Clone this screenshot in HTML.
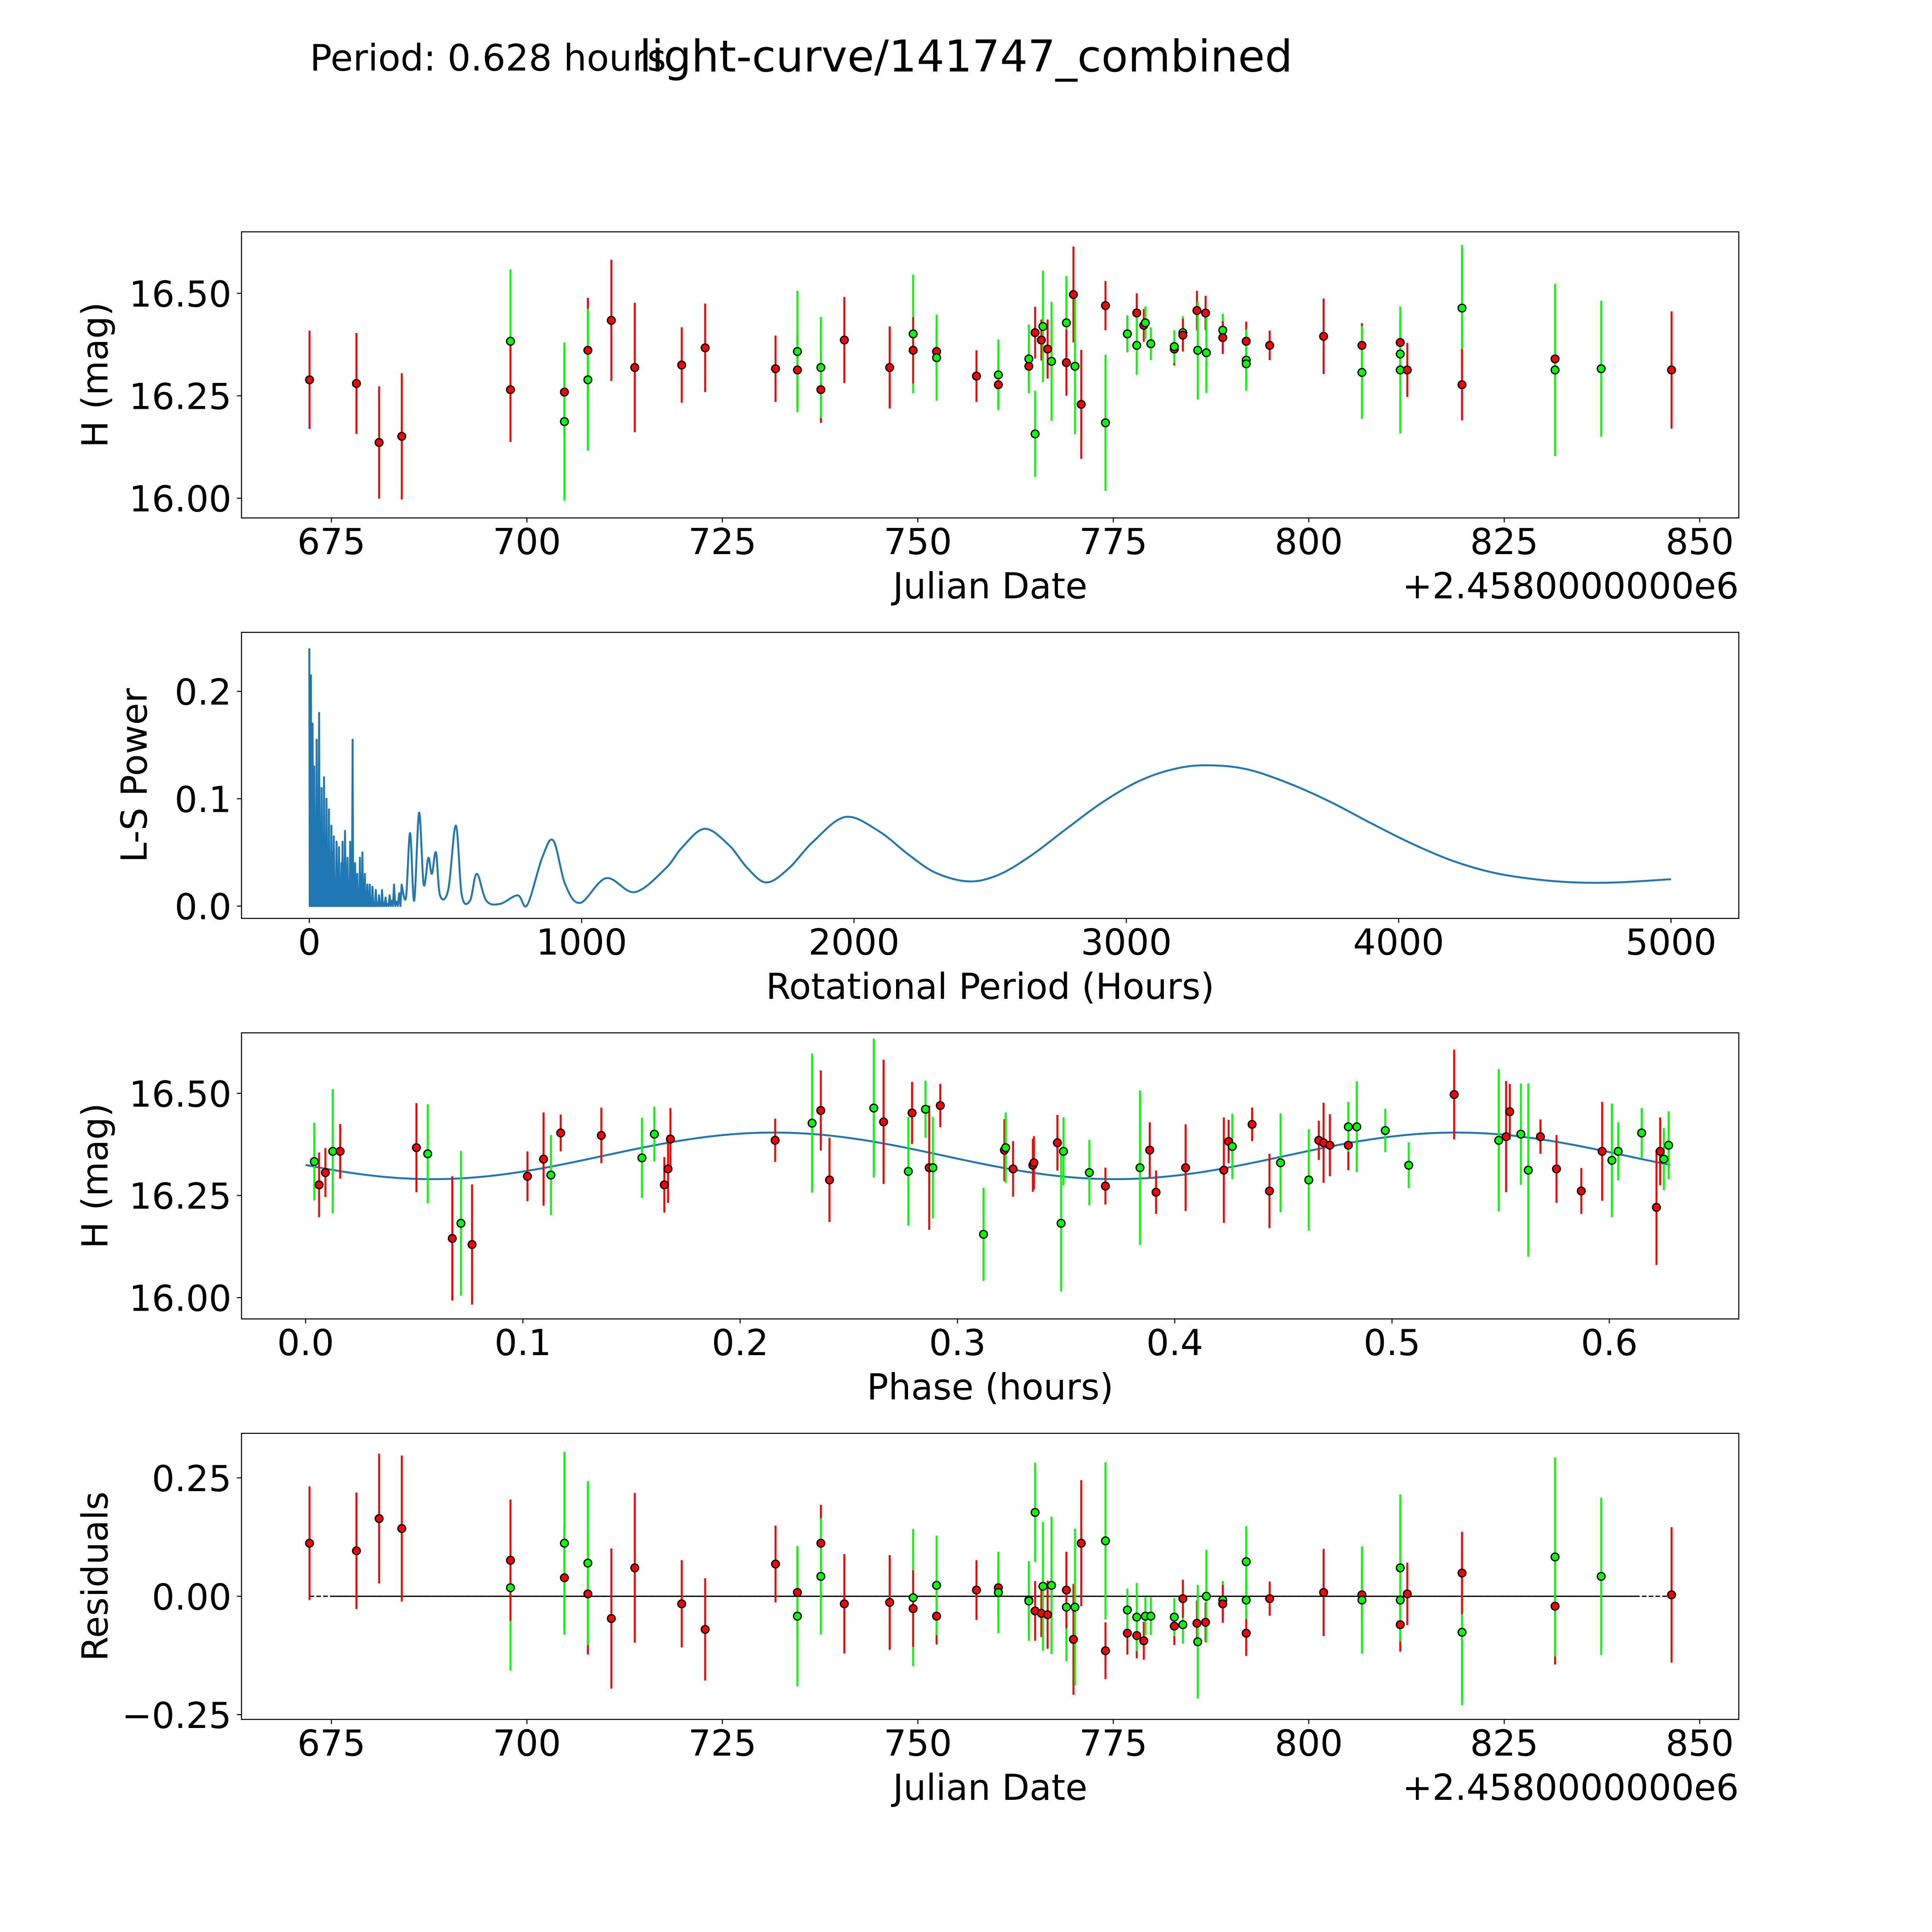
<!DOCTYPE html>
<html><head><meta charset="utf-8"><style>
html,body{margin:0;padding:0;background:#fff;width:100%;height:100%;overflow:hidden}
svg{display:block;width:100vw;height:100vh}
text{font-family:"DejaVu Sans","Liberation Sans",sans-serif;fill:#000}
</style></head><body>
<svg id="fig" xmlns="http://www.w3.org/2000/svg" viewBox="0 0 5400 5400" preserveAspectRatio="xMidYMid meet">
<rect width="5400" height="5400" fill="#fff"/>
<text x="866" y="197" font-size="102">Period: 0.628 hours</text>
<text x="2700" y="200" font-size="122" text-anchor="middle">light-curve/141747_combined</text>
</svg>
<script>
// ---- Data: observations (color, julian date offset, H mag, error, residual)
const obsColor = ['r','r','r','r','g','r','r','g','r','g','r','r','r','r','r','r','g','r','g','r','r','g','r','r','g','r','r','g','r','g','g','r','r','g','r','g','g','r','r','g','r','r','g','r','g','r','g','r','g','g','r','g','g','r','r','g','r','g','g','r','r','g','g','r','r','r','g','r','g','g','r','g','r','r','g','g','r'];
const obsDate = [672.2,678.2,681.1,684.0,697.9,697.9,704.8,704.8,707.8,707.8,710.8,713.8,719.8,722.8,731.8,734.6,734.6,737.6,737.6,740.6,746.4,749.4,749.4,752.4,752.4,757.5,760.3,760.3,764.2,764.2,765.0,765.0,765.8,766.0,766.6,767.1,769.0,769.0,769.9,770.1,770.9,774.0,774.0,776.8,776.8,778.0,778.0,778.9,779.1,779.8,782.8,782.8,783.9,783.9,785.7,785.8,786.8,786.9,789.0,789.0,792.0,792.0,792.0,795.0,801.9,806.8,806.8,811.7,811.7,811.7,812.6,819.6,819.6,831.5,831.5,837.4,846.4];
const obsMag = [16.289,16.280,16.136,16.151,16.383,16.265,16.259,16.187,16.361,16.289,16.434,16.319,16.325,16.367,16.316,16.313,16.358,16.265,16.319,16.386,16.319,16.401,16.361,16.358,16.343,16.298,16.277,16.301,16.322,16.340,16.157,16.404,16.386,16.419,16.364,16.334,16.428,16.331,16.497,16.322,16.229,16.470,16.184,16.401,16.401,16.452,16.373,16.422,16.428,16.377,16.364,16.370,16.404,16.398,16.458,16.361,16.452,16.355,16.410,16.392,16.383,16.337,16.328,16.373,16.395,16.373,16.307,16.380,16.313,16.352,16.313,16.464,16.277,16.340,16.313,16.316,16.313];
const obsErr = [0.120,0.123,0.137,0.154,0.175,0.128,0.110,0.193,0.128,0.173,0.148,0.158,0.092,0.108,0.081,0.093,0.148,0.081,0.123,0.105,0.100,0.145,0.081,0.060,0.105,0.063,0.060,0.086,0.051,0.084,0.105,0.063,0.050,0.136,0.072,0.145,0.114,0.081,0.117,0.166,0.133,0.060,0.166,0.045,0.045,0.048,0.072,0.040,0.040,0.040,0.040,0.040,0.040,0.040,0.048,0.120,0.042,0.098,0.040,0.040,0.048,0.075,0.040,0.036,0.092,0.054,0.113,0.057,0.155,0.040,0.066,0.154,0.087,0.123,0.210,0.166,0.143];
const obsRes = [0.112,0.096,0.164,0.143,0.018,0.076,0.039,0.112,0.005,0.070,-0.047,0.060,-0.016,-0.070,0.068,0.008,-0.042,0.112,0.042,-0.016,-0.013,-0.003,-0.026,-0.042,0.023,0.013,0.018,0.008,-0.008,-0.010,0.177,-0.031,-0.036,0.021,-0.039,0.023,-0.023,0.013,-0.091,-0.023,0.112,-0.115,0.117,-0.078,-0.029,-0.083,-0.044,-0.094,-0.042,-0.042,-0.063,-0.044,-0.060,-0.005,-0.057,-0.096,-0.055,0.000,-0.008,-0.016,-0.078,0.073,-0.008,-0.005,0.008,0.003,-0.008,-0.060,0.060,-0.008,0.005,-0.076,0.049,-0.021,0.083,0.042,0.003];
// ---- Data: phase-folded
const phColor = ['r','g','r','g','r','r','g','r','g','r','r','r','g','r','r','g','g','r','r','r','r','g','r','r','g','r','g','r','g','r','g','r','g','r','g','r','r','r','r','g','g','g','r','g','r','r','r','r','r','g','r','r','g','g','r','r','r','r','g','g','g','g','r','g','r','r','g','g','r','r','r','r','g','g','g','r','r','g','g'];
const phPhase = [0.0062,0.0040,0.0091,0.0125,0.0159,0.0510,0.0562,0.0675,0.0715,0.0766,0.1021,0.1095,0.1129,0.1174,0.1361,0.1548,0.1605,0.1651,0.1668,0.1679,0.2161,0.2331,0.2371,0.2411,0.2615,0.2660,0.2774,0.2791,0.2853,0.2870,0.2887,0.2921,0.3120,0.3216,0.3222,0.3256,0.3347,0.3352,0.3460,0.3477,0.3488,0.3607,0.3681,0.3840,0.3885,0.3914,0.4050,0.4226,0.4248,0.4265,0.4356,0.4436,0.4487,0.4617,0.4663,0.4685,0.4714,0.4799,0.4799,0.4838,0.4969,0.5077,0.5286,0.5491,0.5525,0.5542,0.5593,0.5627,0.5683,0.5757,0.5871,0.5967,0.6012,0.6041,0.6149,0.6217,0.6234,0.6251,0.6273];
const phMag = [16.276,16.333,16.306,16.358,16.358,16.367,16.352,16.145,16.182,16.130,16.297,16.339,16.300,16.403,16.397,16.342,16.400,16.276,16.315,16.388,16.385,16.427,16.458,16.288,16.464,16.430,16.309,16.452,16.461,16.318,16.318,16.470,16.155,16.361,16.367,16.315,16.324,16.330,16.379,16.182,16.358,16.306,16.273,16.318,16.361,16.258,16.318,16.312,16.382,16.370,16.424,16.261,16.330,16.288,16.385,16.379,16.373,16.373,16.418,16.418,16.409,16.324,16.497,16.385,16.394,16.455,16.400,16.312,16.394,16.315,16.261,16.358,16.336,16.358,16.403,16.221,16.358,16.339,16.373];
const phErr = [0.079,0.095,0.060,0.152,0.067,0.109,0.121,0.152,0.177,0.147,0.061,0.114,0.098,0.045,0.068,0.098,0.067,0.068,0.083,0.076,0.053,0.170,0.098,0.103,0.170,0.152,0.133,0.076,0.070,0.152,0.124,0.053,0.114,0.076,0.086,0.068,0.065,0.065,0.068,0.167,0.083,0.080,0.045,0.189,0.068,0.053,0.106,0.129,0.053,0.080,0.041,0.091,0.121,0.124,0.048,0.098,0.076,0.061,0.061,0.111,0.053,0.056,0.110,0.174,0.136,0.068,0.124,0.212,0.042,0.083,0.056,0.121,0.139,0.071,0.061,0.141,0.083,0.076,0.083];
// sinusoid model: mean, amplitude, phase of max
const modelMean = 16.347, modelAmp = 0.057, modelPeriod = 0.314, modelPeakPhase = 0.2155, modelEnd = 0.628;
// ---- Data: periodogram
const spikeHours = [0,3,6,9,12,15,18,22,27,31,36,40,45,49,54,58,63,67,72,76,81,86,90,95,100,104,109,113,118,122,127,131,136,140,145,150,154,159,163,168,172,176,181,186,190,195,199,204,208,213,218,222,227,232,238,244,250,256,262,267,273,280,287,295,303,311,320,330,339];
const spikePower = [0.24,0.03,0.215,0.02,0.17,0.05,0.13,0.01,0.155,0.04,0.18,0.02,0.11,0.06,0.12,0.01,0.10,0.04,0.09,0.005,0.075,0.05,0.065,0.01,0.06,0.02,0.055,0.005,0.04,0.06,0.01,0.07,0.02,0.045,0.005,0.06,0.03,0.155,0.005,0.04,0.01,0.03,0.005,0.045,0.01,0.05,0.005,0.03,0.002,0.02,0.01,0.02,0.005,0.018,0.003,0.015,0.003,0.01,0.002,0.015,0.003,0.008,0.002,0.01,0.005,0.02,0.004,0.012,0.02];
const smoothHours = [339,355,370,385,403,420,437,450,465,480,510,538,560,590,615,650,700,765,800,855,896,940,995,1090,1195,1308,1370,1452,1540,1610,1679,1760,1850,1968,2090,2200,2300,2421,2530,2650,2780,2920,3060,3200,3321,3450,3600,3750,3900,4050,4200,4350,4500,4650,4800,5000];
const smoothPower = [0.02,0.008,0.068,0.005,0.087,0.02,0.045,0.03,0.05,0.01,0.015,0.075,0.01,0.005,0.03,0.005,0.002,0.01,0.001,0.045,0.061,0.02,0.003,0.026,0.013,0.035,0.055,0.072,0.057,0.035,0.022,0.035,0.060,0.083,0.070,0.048,0.031,0.023,0.029,0.047,0.072,0.098,0.118,0.129,0.131,0.127,0.114,0.097,0.077,0.058,0.042,0.031,0.025,0.022,0.022,0.025];
// ---- Tick labels
const xTicksJD = [675,700,725,750,775,800,825,850];
const yTicksMag = [16.00,16.25,16.50];
const xTicksPer = [0,1000,2000,3000,4000,5000];
const yTicksPow = [0.0,0.1,0.2];
const xTicksPh = [0.0,0.1,0.2,0.3,0.4,0.5,0.6];
const yTicksRes = [-0.25,0.00,0.25];

const NS = 'http://www.w3.org/2000/svg';
const fig = document.getElementById('fig');
function el(tag, attrs, parent){const e=document.createElementNS(NS,tag);for(const k in attrs)e.setAttribute(k,attrs[k]);(parent||fig).appendChild(e);return e;}
const L=675,R=4860,H=799.6,GAP=319.8,TOP=648;
const COL={r:'#ff0000',g:'#00ff00'};
function makeAxes(i,xl,yl,name){
  const top=TOP+i*(H+GAP),bot=top+H;
  const g=el('g',{});
  
  
  return {g,top,bot,sx:v=>L+(v-xl[0])/(xl[1]-xl[0])*(R-L),sy:v=>bot-(v-yl[0])/(yl[1]-yl[0])*H};
}
function frame(ax,xt,xfmt,yt,yfmt,xlabel,ylabel,offset,ylabX){
  const b=el('rect',{x:L,y:ax.top,width:R-L,height:H,fill:'none',stroke:'#000','stroke-width':2.9},ax.g);
  
  
  xt.forEach(v=>{const x=ax.sx(v);
    el('line',{x1:x,x2:x,y1:ax.bot,y2:ax.bot+12.7,stroke:'#000','stroke-width':2.9},ax.g);
    const t=el('text',{x:x,y:ax.bot+101,'font-size':100,'text-anchor':'middle'},ax.g);t.textContent=xfmt(v);
    
    });
  yt.forEach(v=>{const y=ax.sy(v);
    el('line',{x1:L-12.7,x2:L,y1:y,y2:y,stroke:'#000','stroke-width':2.9},ax.g);
    const t=el('text',{x:L-28,y:y+37,'font-size':100,'text-anchor':'end'},ax.g);t.textContent=yfmt(v);
    
    });
  const xl=el('text',{x:(L+R)/2,y:ax.bot+225,'font-size':100,'text-anchor':'middle'},ax.g);xl.textContent=xlabel;
  
  
  const cy=(ax.top+ax.bot)/2;
  const yl=el('text',{x:ylabX,y:cy,'font-size':100,'text-anchor':'middle',transform:`rotate(-90 ${ylabX} ${cy})`},ax.g);yl.textContent=ylabel;
  
  
  if(offset){const o=el('text',{x:R,y:ax.bot+225,'font-size':100,'text-anchor':'end'},ax.g);o.textContent=offset;
    
    }
}
function points(ax,xs,ys,es,cs,name){
  xs.forEach((xv,k)=>{const x=ax.sx(xv);
    const ln=el('line',{x1:x,x2:x,y1:ax.sy(ys[k]-es[k]),y2:ax.sy(ys[k]+es[k]),stroke:COL[cs[k]],'stroke-width':5.4},ax.g);
    
    });
  xs.forEach((xv,k)=>{
    const c=el('circle',{cx:ax.sx(xv),cy:ax.sy(ys[k]),r:10.8,fill:COL[cs[k]],stroke:'#000','stroke-width':3.6},ax.g);
    
    });
}
const f2=v=>v.toFixed(2).replace('-','\u2212');
// Panel 1
const a1=makeAxes(0,[663.5,855.0],[15.952,16.65],'light-curve-panel');
frame(a1,xTicksJD,v=>String(v),yTicksMag,f2,'Julian Date','H (mag)','+2.4580000000e6',300);
points(a1,obsDate,obsMag,obsErr,obsColor,'observation');
// Panel 2
const a2=makeAxes(1,[-249,5249],[-0.0115,0.255],'periodogram-panel');
frame(a2,xTicksPer,v=>String(v),yTicksPow,v=>v.toFixed(1),'Rotational Period (Hours)','L-S Power',null,410);
(function(){
  let d='';
  spikeHours.forEach((h,k)=>{d+=(k?'L':'M')+a2.sx(h).toFixed(1)+' '+a2.sy(spikePower[k]).toFixed(1);
    if(k<spikeHours.length-1){d+='L'+a2.sx((h+spikeHours[k+1])/2).toFixed(1)+' '+a2.sy(0).toFixed(1);}});
  const P=smoothHours.map((h,k)=>[a2.sx(h),a2.sy(smoothPower[k])]);
  for(let k=0;k<P.length-1;k++){
    const p0=P[Math.max(0,k-1)],p1=P[k],p2=P[k+1],p3=P[Math.min(P.length-1,k+2)];
    const c1=[p1[0]+(p2[0]-p0[0])/6,p1[1]+(p2[1]-p0[1])/6],c2=[p2[0]-(p3[0]-p1[0])/6,p2[1]-(p3[1]-p1[1])/6];
    d+=`C${c1[0].toFixed(1)} ${c1[1].toFixed(1)} ${c2[0].toFixed(1)} ${c2[1].toFixed(1)} ${p2[0].toFixed(1)} ${p2[1].toFixed(1)}`;
  }
  const p=el('path',{d:d,fill:'none',stroke:'#1f77b4','stroke-width':5.4,'stroke-linejoin':'round'},a2.g);
  
  
})();
// Panel 3
const a3=makeAxes(2,[-0.0295,0.6596],[15.948,16.648],'phase-panel');
frame(a3,xTicksPh,v=>v.toFixed(1),yTicksMag,f2,'Phase (hours)','H (mag)',null,300);
(function(){
  let d='';
  for(let i=0;i<=300;i++){const p=modelEnd*i/300;const m=modelMean+modelAmp*Math.cos(2*Math.PI*(p-modelPeakPhase)/modelPeriod);
    d+=(i?'L':'M')+a3.sx(p).toFixed(1)+' '+a3.sy(m).toFixed(1);}
  const c=el('path',{d:d,fill:'none',stroke:'#1f77b4','stroke-width':5.4},a3.g);
  
  
})();
points(a3,phPhase,phMag,phErr,phColor,'phase');
// Panel 4
const a4=makeAxes(3,[663.5,855.0],[-0.26,0.344],'residuals-panel');
frame(a4,xTicksJD,v=>String(v),yTicksRes,f2,'Julian Date','Residuals','+2.4580000000e6',300);
(function(){
  const x0=a4.sx(obsDate[0]),x1=a4.sx(obsDate[obsDate.length-1]),y=a4.sy(0);
  const z1=el('line',{x1:x0,x2:x1,y1:y,y2:y,stroke:'#000','stroke-width':3.6,'stroke-dasharray':'13 6'},a4.g);
  
  
  const z2=el('line',{x1:a4.sx(675),x2:a4.sx(842),y1:y,y2:y,stroke:'#000','stroke-width':3.6},a4.g);
  
  
})();
points(a4,obsDate,obsRes,obsErr,obsColor,'residual');
</script>
</body></html>
